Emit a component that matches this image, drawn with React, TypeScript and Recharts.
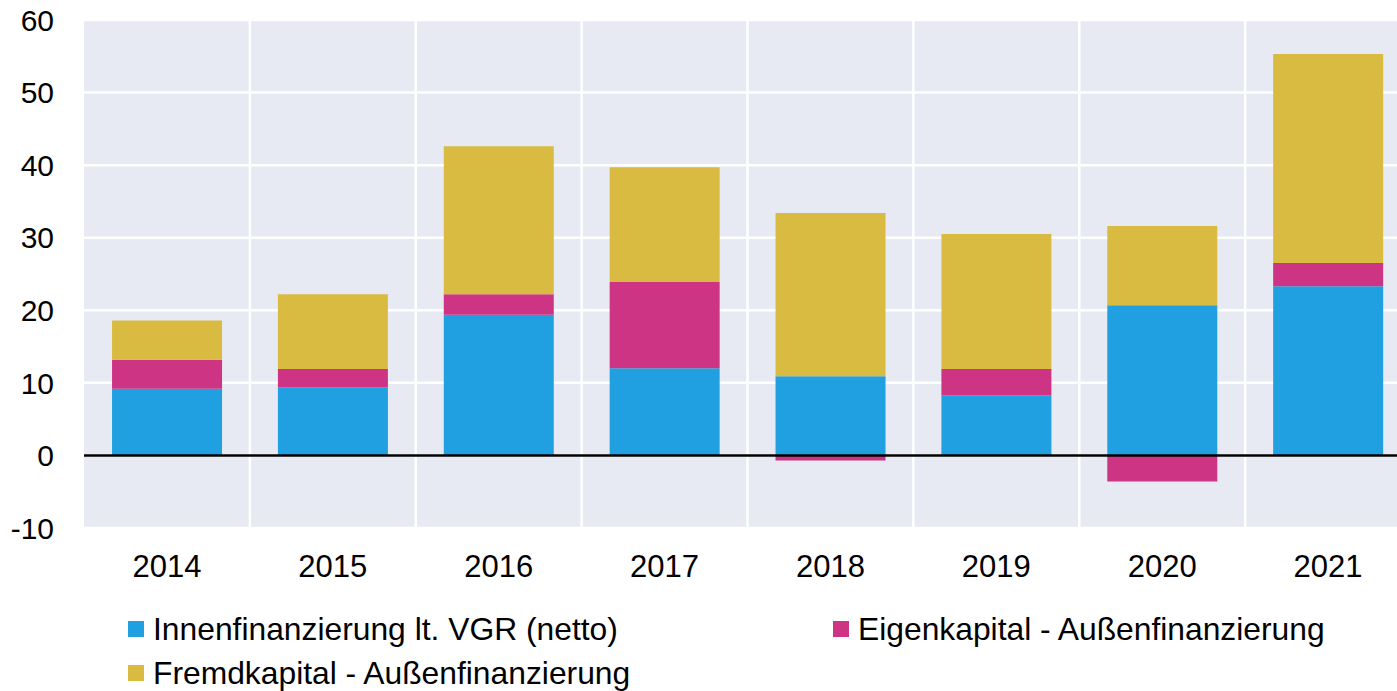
import React from 'react';
import { BarChart, Bar, XAxis, YAxis, CartesianGrid, ReferenceLine, Legend } from 'recharts';

const years = ['2014', '2015', '2016', '2017', '2018', '2019', '2020', '2021'];
const innen = [9.2, 9.4, 19.4, 12.0, 10.9, 8.3, 20.7, 23.3];
const eigen = [4.0, 2.5, 2.8, 11.9, -0.7, 3.6, -3.6, 3.2];
const fremd = [5.4, 10.3, 20.4, 15.8, 22.5, 18.6, 10.9, 28.8];
const yTicks = [-10, 0, 10, 20, 30, 40, 50, 60];

const seriesKeys = ['innen', 'eigen', 'fremd'];
const names: Record<string, string> = {
  innen: 'Innenfinanzierung lt. VGR (netto)',
  eigen: 'Eigenkapital - Außenfinanzierung',
  fremd: 'Fremdkapital - Außenfinanzierung',
};
const colors: Record<string, string> = { innen: '#20A0E0', eigen: '#CD3584', fremd: '#D9BB41' };

const data = years.map((y, i) => ({ year: y, innen: innen[i], eigen: eigen[i], fremd: fremd[i] }));

const FONT = '"Liberation Sans", Arial, sans-serif';

const LegendContent = () => {
  return (
    <div style={{ height: 90, paddingTop: 6, boxSizing: 'border-box', display: 'grid', gridTemplateColumns: '705px 580px', fontFamily: FONT, fontSize: 31.8, color: '#000' }}>
      {seriesKeys.map((k) => (
        <div key={k} style={{ display: 'flex', alignItems: 'center', height: 44, whiteSpace: 'nowrap' }}>
          <span style={{ display: 'inline-block', width: 16, height: 16, background: colors[k], marginRight: 9 }} />
          <span>{names[k]}</span>
        </div>
      ))}
    </div>
  );
};

export default function App() {
  return (
    <div style={{ position: 'absolute', left: 0, top: 0, width: 1397, height: 691, background: '#fff', overflow: 'hidden' }}>
      <BarChart
        width={1411}
        height={691}
        data={data}
        stackOffset="sign"
        barCategoryGap="16.9%"
        margin={{ top: 20, right: 0, left: 0, bottom: 0 }}
      >
        <CartesianGrid
          fill="#E7EAF2"
          stroke="#FFFFFF"
          strokeWidth={2.5}
          verticalCoordinatesGenerator={({ offset }: any) =>
            years.slice(1).map((_, i) => offset.left + ((i + 1) * offset.width) / years.length)
          }
        />
        <XAxis
          dataKey="year"
          axisLine={false}
          tickLine={false}
          tickSize={0}
          tickMargin={27}
          height={73}
          tick={{ fill: '#000', fontSize: 31, fontFamily: FONT }}
        />
        <YAxis
          domain={[-10, 60]}
          ticks={yTicks}
          axisLine={false}
          tickLine={false}
          tickSize={0}
          tickMargin={30}
          width={84}
          interval={0}
          tick={{ fill: '#000', fontSize: 30, fontFamily: FONT }}
        />
        <Bar dataKey="innen" name={names.innen} stackId="a" fill={colors.innen} isAnimationActive={false} />
        <Bar dataKey="eigen" name={names.eigen} stackId="a" fill={colors.eigen} isAnimationActive={false} />
        <Bar dataKey="fremd" name={names.fremd} stackId="a" fill={colors.fremd} isAnimationActive={false} />
        <ReferenceLine y={0} stroke="#000" strokeWidth={2.5} />
        <Legend
          verticalAlign="bottom"
          align="left"
          content={<LegendContent />}
          wrapperStyle={{ left: 128, width: 1265 }}
        />
      </BarChart>
    </div>
  );
}
